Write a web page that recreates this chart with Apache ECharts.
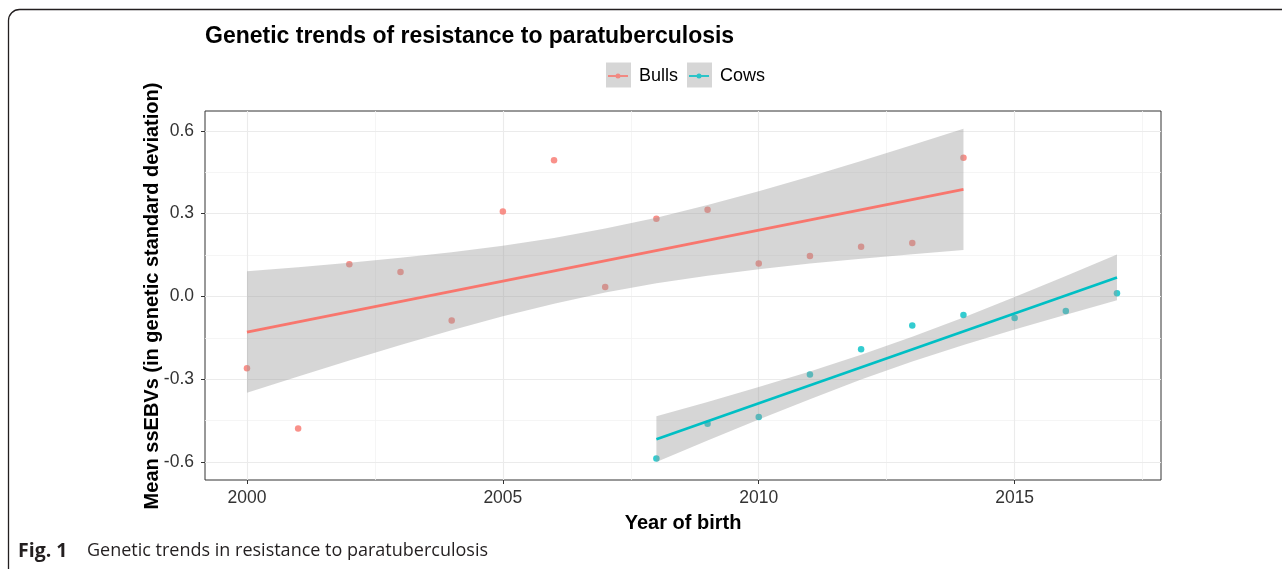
<!DOCTYPE html>
<html>
<head>
<meta charset="utf-8">
<script src="https://cdn.jsdelivr.net/npm/echarts@6/dist/echarts.min.js"></script>
<style>
html,body{margin:0;padding:0;background:#fff;}
#chart{width:1282px;height:569px;}
</style>
</head>
<body>
<div id="chart"></div>
<script>
// ---- data ----
const bullYears = [2000,2001,2002,2003,2004,2005,2006,2007,2008,2009,2010,2011,2012,2013,2014];
const bullValues = [-0.260,-0.478,0.117,0.089,-0.087,0.308,0.494,0.034,0.282,0.314,0.119,0.147,0.180,0.194,0.503];
const cowYears = [2008,2009,2010,2011,2012,2013,2014,2015,2016,2017];
const cowValues = [-0.587,-0.461,-0.437,-0.283,-0.191,-0.105,-0.067,-0.078,-0.053,0.012];

// fitted trend lines (end points)
const bullFitYears = [2000,2014];
const bullFitValues = [-0.129,0.388];
const cowFitYears = [2008,2017];
const cowFitValues = [-0.517,0.069];

// confidence bands (upper / lower edges read per year)
const bullBandUpper = [0.091,0.106,0.122,0.140,0.160,0.184,0.212,0.246,0.285,0.331,0.381,0.435,0.491,0.549,0.608];
const bullBandLower = [-0.349,-0.290,-0.232,-0.176,-0.122,-0.072,-0.026,0.014,0.048,0.075,0.099,0.119,0.137,0.153,0.168];
const cowBandUpper = [-0.434,-0.382,-0.328,-0.272,-0.211,-0.146,-0.076,-0.002,0.074,0.152];
const cowBandLower = [-0.600,-0.522,-0.446,-0.372,-0.301,-0.236,-0.176,-0.120,-0.066,-0.014];

// axis ticks
const xMajorTicks = [2000,2005,2010,2015];
const xMinorTicks = [2002.5,2007.5,2012.5,2017.5];
const yMajorTicks = [-0.6,-0.3,0,0.3,0.6];
const yMinorTicks = [-0.45,-0.15,0.15,0.45];

const seriesNames = ['Bulls','Cows'];
const texts = {
  title: 'Genetic trends of resistance to paratuberculosis',
  xTitle: 'Year of birth',
  yTitle: 'Mean ssEBVs (in genetic standard deviation)',
  figLabel: 'Fig. 1',
  caption: 'Genetic trends in resistance to paratuberculosis'
};

// ---- styling ----
const BULL = '#F8766D';
const COW = '#00BFC4';
const BAND = 'rgba(153,153,153,0.4)';
const FONT = "'Liberation Sans', Arial, Helvetica, sans-serif";
const CAPFONT = "'Open Sans', 'Noto Sans', sans-serif";
const XMIN = 1999.18, XMAX = 2017.86, YMIN = -0.665, YMAX = 0.672;

function pairs(xs, ys){ return xs.map((x,i)=>[x, ys[i]]); }

function band(name, yrs, up, lo){
  return {
    type:'custom', name:name, z:3, silent:true, clip:true,
    data:[0],
    renderItem:function(params, api){
      const pts=[];
      for(let i=0;i<yrs.length;i++) pts.push(api.coord([yrs[i], up[i]]));
      for(let i=yrs.length-1;i>=0;i--) pts.push(api.coord([yrs[i], lo[i]]));
      return {type:'polygon', shape:{points:pts}, style:{fill:BAND}};
    }
  };
}

const chart = echarts.init(document.getElementById('chart'), null, {renderer:'canvas'});
const legendIcon = 'path://M0,1.5 L20,1.5 L20,3.5 L0,3.5 Z M7.5,2.5 A2.5,2.5 0 1,1 12.5,2.5 A2.5,2.5 0 1,1 7.5,2.5 Z';

chart.setOption({
  animation:false,
  backgroundColor:'#fff',
  title:{
    text:texts.title, left:200, top:20,
    textStyle:{fontFamily:FONT, fontWeight:'bold', fontSize:23, color:'#000'}
  },
  legend:{
    left:603, top:62, orient:'horizontal',
    itemWidth:20, itemHeight:5, itemGap:11, icon:legendIcon,
    selectedMode:false,
    textStyle:{fontFamily:FONT, fontSize:18, color:'#000', padding:[0,0,0,6]},
    data:[{name:seriesNames[0], itemStyle:{color:BULL, borderWidth:0}},
          {name:seriesNames[1], itemStyle:{color:COW, borderWidth:0}}]
  },
  grid:{left:205, right:121, top:111, bottom:89, show:true, borderColor:'#333', borderWidth:1, backgroundColor:'transparent', containLabel:false},
  xAxis:[
    {type:'value', min:XMIN, max:XMAX, z:1, position:'bottom',
     axisLine:{show:false, onZero:false},
     axisTick:{show:true, length:4, customValues:xMajorTicks, lineStyle:{color:'#333', width:1}},
     axisLabel:{customValues:xMajorTicks, margin:9, fontFamily:FONT, fontSize:17.5, color:'#333', formatter:v=>String(Math.round(v))},
     splitLine:{show:true, lineStyle:{color:'#EBEBEB', width:1.1}}},
    {type:'value', min:XMIN, max:XMAX, z:0, position:'bottom',
     axisLine:{show:false, onZero:false}, axisLabel:{show:false},
     axisTick:{show:false, customValues:xMinorTicks},
     splitLine:{show:true, lineStyle:{color:'#F2F2F2', width:0.8}}}
  ],
  yAxis:[
    {type:'value', min:YMIN, max:YMAX, z:1, position:'left',
     axisLine:{show:false, onZero:false},
     axisTick:{show:true, length:4, customValues:yMajorTicks, lineStyle:{color:'#333', width:1}},
     axisLabel:{customValues:yMajorTicks, margin:11, fontFamily:FONT, fontSize:17.5, color:'#333', formatter:v=>v.toFixed(1)},
     splitLine:{show:true, lineStyle:{color:'#EBEBEB', width:1.1}}},
    {type:'value', min:YMIN, max:YMAX, z:0, position:'left',
     axisLine:{show:false, onZero:false}, axisLabel:{show:false},
     axisTick:{show:false, customValues:yMinorTicks},
     splitLine:{show:true, lineStyle:{color:'#F2F2F2', width:0.8}}}
  ],
  graphic:[
    {type:'rect', z:0, silent:true, shape:{x:8.5, y:9.5, width:1400, height:700, r:11}, style:{fill:'none', stroke:'#231F20', lineWidth:1.3}},
    {type:'rect', z:0, silent:true, shape:{x:606, y:62.5, width:25, height:25}, style:{fill:'#D6D6D6'}},
    {type:'rect', z:0, silent:true, shape:{x:687, y:62.5, width:25, height:25}, style:{fill:'#D6D6D6'}},
    {type:'text', z:5, silent:true, x:152, y:296, rotation:Math.PI/2,
     style:{text:texts.yTitle, fontFamily:FONT, fontWeight:'bold', fontSize:20, fill:'#000', align:'center', verticalAlign:'middle'}},
    {type:'text', z:5, silent:true, x:683, y:523,
     style:{text:texts.xTitle, fontFamily:FONT, fontWeight:'bold', fontSize:20, fill:'#000', align:'center', verticalAlign:'middle'}},
    {type:'text', z:5, silent:true, x:18, y:551,
     style:{text:texts.figLabel, fontFamily:CAPFONT, fontWeight:'bold', fontSize:19.5, fill:'#231F20', align:'left', verticalAlign:'middle'}},
    {type:'text', z:5, silent:true, x:87, y:551,
     style:{text:texts.caption, fontFamily:CAPFONT, fontSize:18, fill:'#231F20', align:'left', verticalAlign:'middle'}}
  ],
  series:[
    {type:'scatter', name:seriesNames[0], z:2, symbol:'circle', symbolSize:6.5, itemStyle:{color:BULL}, data:pairs(bullYears, bullValues)},
    {type:'scatter', name:seriesNames[1], z:2, symbol:'circle', symbolSize:6.5, itemStyle:{color:COW}, data:pairs(cowYears, cowValues)},
    band(seriesNames[0], bullYears, bullBandUpper, bullBandLower),
    band(seriesNames[1], cowYears, cowBandUpper, cowBandLower),
    {type:'line', name:seriesNames[0], z:4, showSymbol:false, lineStyle:{color:BULL, width:2.7}, itemStyle:{color:BULL}, data:pairs(bullFitYears, bullFitValues)},
    {type:'line', name:seriesNames[1], z:4, showSymbol:false, lineStyle:{color:COW, width:2.7}, itemStyle:{color:COW}, data:pairs(cowFitYears, cowFitValues)}
  ]
});
</script>
</body>
</html>
